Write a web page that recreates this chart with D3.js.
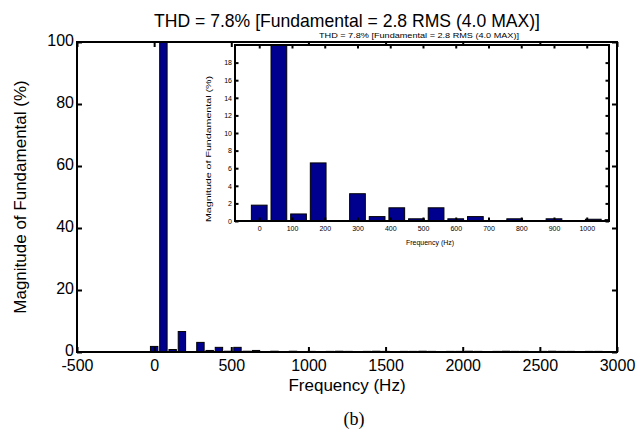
<!DOCTYPE html>
<html><head><meta charset="utf-8">
<script src="https://cdn.jsdelivr.net/npm/d3@7"></script>
<style>
html,body{margin:0;padding:0;background:#fff;}
svg text{font-family:"Liberation Sans",Arial,sans-serif;fill:#000;}
</style></head>
<body>
<svg id="c" width="641" height="432"></svg>
<script>
// ---- data ----
const freqs = [0,60,120,180,240,300,360,420,480,540,600,660,720,780,840,900,960,1020,1080,1140,
  1200,1260,1320,1380,1440,1500,1560,1620,1680,1740,1800,1860,1920,1980,2040,2100,2160,2220,2280,2340,
  2400,2460,2520,2580,2640,2700,2760,2820,2880,2940];
const magnitudes = [1.8,100,0.8,6.6,0.05,3.1,0.5,1.5,0.25,1.5,0.25,0.5,0.05,0.25,0.05,0.25,0.05,0.2,0.15,0.2,
  0.25,0.2,0.15,0.2,0.25,0.2,0.15,0.2,0.2,0.25,0.2,0.15,0.2,0.2,0.25,0.2,0.15,0.2,0.25,0.2,
  0.2,0.15,0.2,0.25,0.2,0.2,0.15,0.2,0.2,0.15];
const mainXTicks = [-500,0,500,1000,1500,2000,2500,3000];
const mainYTicks = [0,20,40,60,80,100];
const insetXTicks = [0,100,200,300,400,500,600,700,800,900,1000];
const insetYTicks = [0,2,4,6,8,10,12,14,16,18];
const titleText = "THD = 7.8% [Fundamental = 2.8 RMS (4.0 MAX)]";
const xLabelText = "Frequency (Hz)";
const yLabelText = "Magnitude of Fundamental (%)";
const captionText = "(b)";
const barWidthHz = 48;

const data = freqs.map((f,i)=>({f, v: magnitudes[i]}));
const svg = d3.select("#c");
const barFill = "#00008f";
const plain = d => String(d);

function panel(g, o) {
  const x = d3.scaleLinear().domain(o.xd).range([o.x0, o.x1]);
  const y = d3.scaleLinear().domain(o.yd).range([o.y1, o.y0]);
  const id = "clip" + o.name;
  svg.append("clipPath").attr("id", id).append("rect")
    .attr("x", o.x0).attr("y", o.y0).attr("width", o.x1 - o.x0).attr("height", o.y1 - o.y0);
  g.append("rect").attr("x", o.x0).attr("y", o.y0).attr("width", o.x1 - o.x0).attr("height", o.y1 - o.y0)
    .attr("fill", "#fff");
  g.append("g").attr("clip-path", `url(#${id})`).selectAll("rect").data(data).join("rect")
    .attr("x", d => x(d.f - barWidthHz/2))
    .attr("width", d => x(d.f + barWidthHz/2) - x(d.f - barWidthHz/2))
    .attr("y", d => y(d.v))
    .attr("height", d => y(0) - y(d.v))
    .attr("fill", barFill).attr("stroke", "#000").attr("stroke-width", o.bw);
  const tl = o.tl;
  const ax = (gen, tr) => g.append("g").attr("transform", tr).call(gen)
    .call(s => s.select(".domain").remove());
  const bottom = ax(d3.axisBottom(x).tickValues(o.xt).tickSizeInner(-tl).tickSizeOuter(0).tickPadding(o.xpad).tickFormat(plain), `translate(0,${o.y1})`);
  const top = ax(d3.axisTop(x).tickValues(o.xt).tickSizeInner(-tl).tickSizeOuter(0).tickFormat(""), `translate(0,${o.y0})`);
  const left = ax(d3.axisLeft(y).tickValues(o.yt).tickSizeInner(-tl).tickSizeOuter(0).tickPadding(o.ypad).tickFormat(plain), `translate(${o.x0},0)`);
  const right = ax(d3.axisRight(y).tickValues(o.yt).tickSizeInner(-tl).tickSizeOuter(0).tickFormat(""), `translate(${o.x1},0)`);
  [bottom, top, left, right].forEach(a => {
    a.selectAll("line").attr("stroke", "#000").attr("stroke-width", o.lw);
    a.selectAll("text").attr("font-size", o.fs).attr("font-family", null);
  });
  left.selectAll("text").attr("dy", o.ydy);
  g.append("rect").attr("x", o.x0).attr("y", o.y0).attr("width", o.x1 - o.x0).attr("height", o.y1 - o.y0)
    .attr("fill", "none").attr("stroke", "#000").attr("stroke-width", o.lw);
  return {x, y};
}

// main axes
const gMain = svg.append("g");
panel(gMain, {name:"m", xd:[-500,3000], yd:[0,100], x0:77, x1:617, y0:42, y1:352,
  xt: mainXTicks, yt: mainYTicks, tl:5, lw:2, bw:1, fs:16, xpad:8, ypad:3, ydy:"0.2em"});
gMain.append("text").attr("x", 347).attr("y", 27).attr("text-anchor","middle")
  .attr("font-size", 18.5).attr("textLength", 386).attr("lengthAdjust","spacingAndGlyphs").text(titleText);
gMain.append("text").attr("x", 347).attr("y", 391).attr("text-anchor","middle")
  .attr("font-size", 17).text(xLabelText);
gMain.append("text").attr("transform","translate(26,197) rotate(-90)").attr("text-anchor","middle")
  .attr("font-size", 17).text(yLabelText);
svg.append("text").attr("x", 354).attr("y", 425).attr("text-anchor","middle")
  .style("font-family", "'Liberation Serif','Times New Roman',serif").attr("font-size", 18).text(captionText);

// inset axes
const gIn = svg.append("g");
panel(gIn, {name:"i", xd:[-74,1068], yd:[0,20], x0:235, x1:609, y0:45, y1:221,
  xt: insetXTicks, yt: insetYTicks, tl:3.5, lw:2, bw:1, fs:7, xpad:5, ypad:3, ydy:"0.32em"});
gIn.append("text").attr("x", 419).attr("y", 38).attr("text-anchor","middle")
  .attr("font-size", 7.5).attr("textLength", 200).attr("lengthAdjust","spacingAndGlyphs").text(titleText);
gIn.append("text").attr("x", 430).attr("y", 245).attr("text-anchor","middle")
  .attr("font-size", 7).text(xLabelText);
gIn.append("text").attr("transform","translate(211,149) rotate(-90)").attr("text-anchor","middle")
  .attr("font-size", 7.5).attr("textLength", 146).attr("lengthAdjust","spacingAndGlyphs").text(yLabelText);
</script>
</body></html>
